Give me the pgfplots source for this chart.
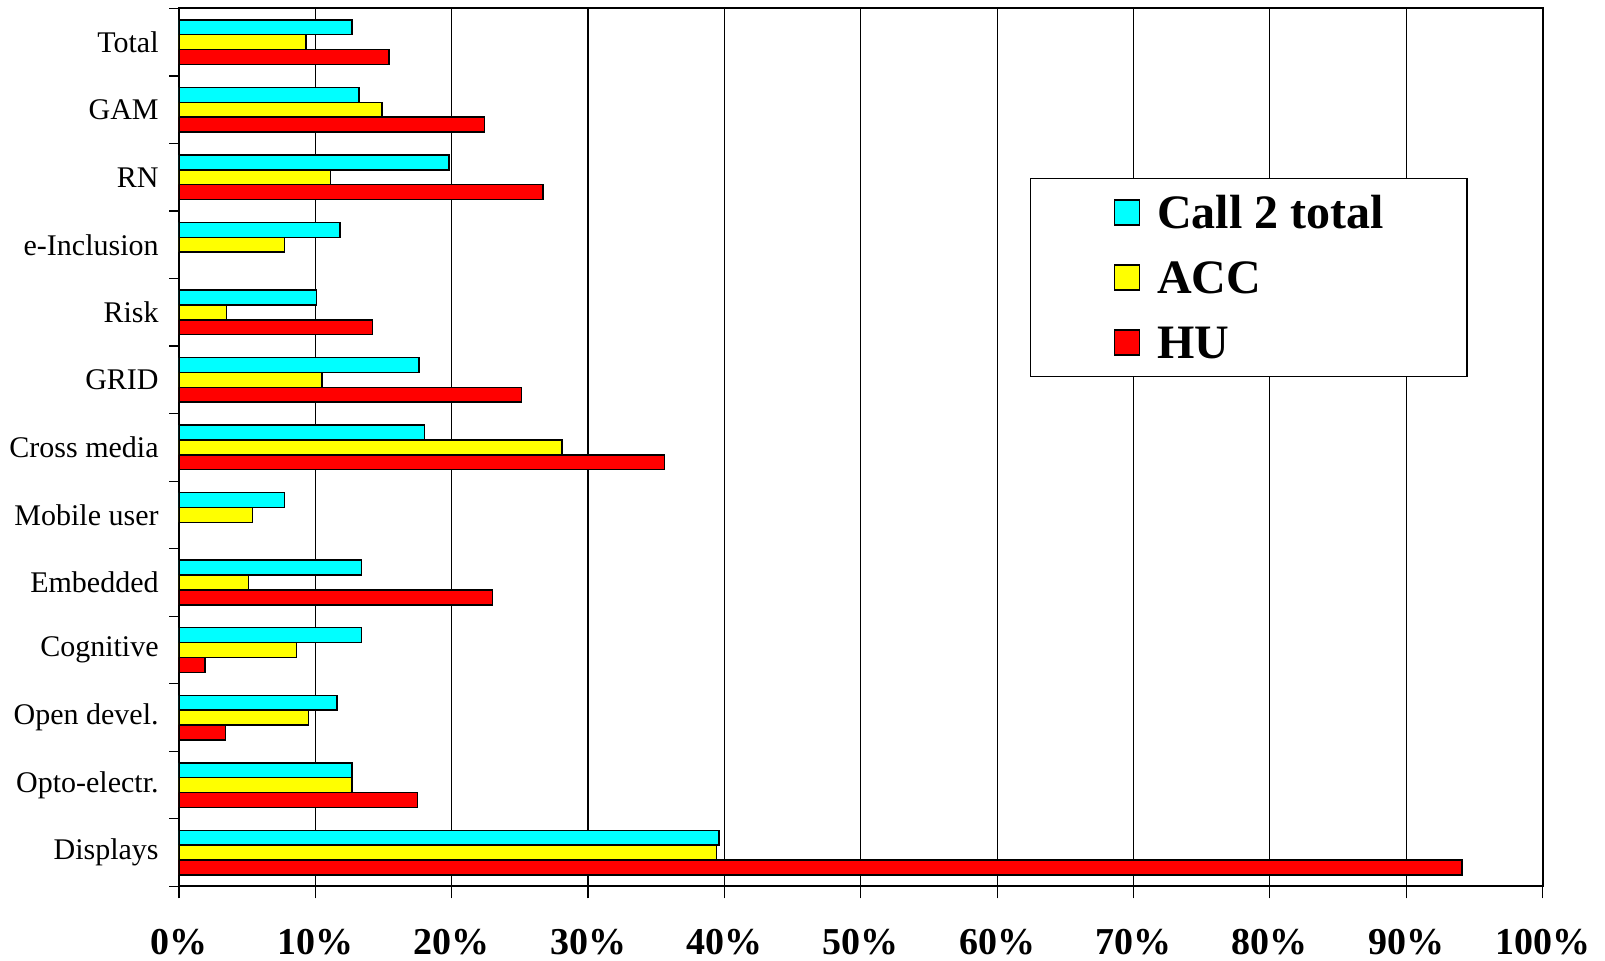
\documentclass[border=0pt]{standalone}
\usepackage{fontspec}
\setmainfont{Liberation Serif}
\usepackage{pgfplots}
\pgfplotsset{compat=1.18}
\definecolor{cy}{RGB}{0,255,255}
\definecolor{ye}{RGB}{255,255,0}
\definecolor{re}{RGB}{255,0,0}
\begin{document}
\begin{tikzpicture}
\begin{axis}[
  scale only axis, width=681.8pt, height=439pt,
  xmin=0, xmax=100, ymin=-0.5, ymax=12.5,
  xbar, bar width=0.22,
  xtick={0,10,...,100},
  xticklabels={0\%,10\%,20\%,30\%,40\%,50\%,60\%,70\%,80\%,90\%,100\%},
  xticklabel style={font=\fontsize{19}{19}\selectfont\bfseries, yshift=-12pt},
  ytick={0,...,12},
  yticklabels={Displays,Opto-electr.,Open devel.,Cognitive,Embedded,Mobile user,Cross media,GRID,Risk,e-Inclusion,RN,GAM,Total},
  yticklabel style={font=\fontsize{15}{15}\selectfont, inner sep=0pt, xshift=-4pt},
  minor ytick={-0.5,0.5,...,12.5},
  tick align=outside, ytick pos=left, xtick pos=bottom,
  major tick length=6pt, minor tick length=5pt,
  every major y tick/.style={draw=none},
  every tick/.style={black, line width=0.6pt},
  xmajorgrids, major grid style={black, line width=0.6pt},
  axis line style={line width=1pt},
  legend style={at={(0.624,0.807)}, anchor=north west, draw=black, line width=0.75pt,
    font=\bfseries\fontsize{24}{24}\selectfont, inner xsep=41.5pt, inner ysep=9pt,
    row sep=16.5pt, nodes={inner sep=0pt, text height=16pt, text depth=0pt}},
  legend cell align=left,
  legend image code/.code={\draw[#1, line width=0.75pt] (0pt,-6.25pt) rectangle (12.5pt,6.25pt); \path (21pt,0pt);},
]
\addplot[fill=cy, draw=black, line width=0.75pt, bar shift=0.22] coordinates {
(39.6,0) (12.7,1) (11.6,2) (13.4,3) (13.4,4) (7.75,5) (18.0,6) (17.6,7) (10.1,8) (11.8,9) (19.8,10) (13.2,11) (12.7,12)};
\addlegendentry{Call 2 total}
\addplot[fill=ye, draw=black, line width=0.75pt, bar shift=0] coordinates {
(39.4,0) (12.7,1) (9.5,2) (8.6,3) (5.1,4) (5.4,5) (28.1,6) (10.5,7) (3.5,8) (7.75,9) (11.1,10) (14.9,11) (9.3,12)};
\addlegendentry{ACC}
\addplot[fill=re, draw=black, line width=0.75pt, bar shift=-0.22] coordinates {
(94.1,0) (17.5,1) (3.4,2) (1.9,3) (23.0,4) (35.6,6) (25.1,7) (14.2,8) (26.7,10) (22.4,11) (15.4,12)};
\addlegendentry{HU}
\end{axis}
\pgfresetboundingbox
\path (-89.5pt,-36.8pt) rectangle (713pt,443.2pt);
\end{tikzpicture}
\end{document}
